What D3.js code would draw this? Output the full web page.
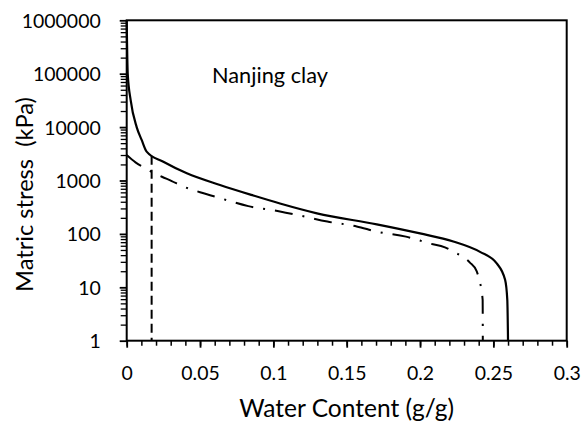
<!DOCTYPE html>
<html>
<head>
<meta charset="utf-8">
<script src="https://cdn.jsdelivr.net/npm/d3@7"></script>
<style>
  body { margin: 0; background: #fff; }
  text { font-family: Lato, "Open Sans", sans-serif; fill: #000; }
</style>
</head>
<body>
<div id="chart"></div>
<script>
var svgWidth = 585;
var svgHeight = 428;

var margin = { t: 20.3, r: 18.3, b: 87.3, l: 126.7 };

var width = svgWidth - margin.l - margin.r;
var height = svgHeight - margin.t - margin.b;

// data: water content (g/g) vs matric stress (kPa)
var solidW = [0, 0.0007, 0.0027, 0.0068, 0.0102, 0.0136, 0.025, 0.041, 0.0636, 0.0863, 0.1045, 0.1297, 0.1705, 0.2, 0.2227, 0.2409, 0.2523, 0.258, 0.2595, 0.26];
var solidS = [1000000, 100000, 32000, 10000, 5750, 3470, 2240, 1365, 824, 524, 371, 243, 151, 102, 72, 46, 28, 13.8, 5.8, 1];

var dashDotW = [0, 0.006, 0.0125, 0.024, 0.0307, 0.0375, 0.05, 0.0636, 0.0829, 0.1045, 0.117, 0.1368, 0.1568, 0.1705, 0.1904, 0.2068, 0.217, 0.2227, 0.234, 0.2386, 0.2404, 0.2427, 0.2428];
var dashDotS = [3000, 2190, 1700, 1175, 977, 794, 603, 468, 331, 263, 224, 170, 138, 110, 89, 66, 56, 46.5, 29, 20, 13.8, 5.8, 1];

var dashedW = [0.017, 0.017];
var dashedS = [2900, 1];

var xTicks = [0, 0.05, 0.1, 0.15, 0.2, 0.25, 0.3];
var yTicks = [1, 10, 100, 1000, 10000, 100000, 1000000];

// scale a text's font so it is as wide as in the picture (Calibri is not here)
function fitWidth(sel, target) {
    var fs = parseFloat(sel.attr("font-size"));
    var len = sel.node().getComputedTextLength();
    var nfs = fs * target / len;
    sel.attr("font-size", nfs + "px");
    return nfs;
}

var svg = d3.select("#chart")
    .append("svg")
    .attr("width", svgWidth)
    .attr("height", svgHeight);

var chartGroup = svg.append("g")
    .attr("transform", `translate(${margin.l}, ${margin.t})`);

var xScale = d3.scaleLinear().domain([0, 0.3]).range([0, width]);
var yScale = d3.scaleLog().domain([1, 1000000]).range([height, 0]);

// minor ticks first
var xMinor = d3.range(0, 0.3001, 0.01);
chartGroup.append("g")
    .attr("transform", `translate(0, ${height})`)
    .call(d3.axisBottom(xScale).tickValues(xMinor).tickSize(5).tickFormat(""))
    .call(g => g.select(".domain").remove())
    .selectAll("line").attr("stroke", "#000").attr("stroke-width", 1.5);

var yMinor = [];
yTicks.slice(0, -1).forEach(function(d) {
    for (var k = 2; k <= 9; k++) yMinor.push(d * k);
});
chartGroup.append("g")
    .call(d3.axisLeft(yScale).tickValues(yMinor).tickSize(6).tickFormat(""))
    .call(g => g.select(".domain").remove())
    .selectAll("line").attr("stroke", "#000").attr("stroke-width", 1.3);

var bottomAxis = d3.axisBottom(xScale)
    .tickValues(xTicks)
    .tickSize(7)
    .tickFormat(d => String(+d.toFixed(2)));
var leftAxis = d3.axisLeft(yScale)
    .tickValues(yTicks)
    .tickSize(7)
    .tickPadding(19)
    .tickFormat(d => String(d));

var xAxisG = chartGroup.append("g")
    .attr("transform", `translate(0, ${height})`)
    .call(bottomAxis);
var yAxisG = chartGroup.append("g")
    .call(leftAxis);

[xAxisG, yAxisG].forEach(function(g) {
    g.select(".domain").remove();
    g.selectAll("line").attr("stroke", "#000").attr("stroke-width", 1.8);
    g.selectAll("text").attr("font-size", "20px").attr("font-family", "Lato, sans-serif");
});

// tick label size from the widest label, "1000000"
var topLabel = yAxisG.selectAll("text").filter(d => d === 1000000);
var tickFs = fitWidth(topLabel, 79);
xAxisG.selectAll("text").attr("font-size", tickFs + "px")
    .attr("dy", 0)
    .attr("y", 32 + 0.36 * tickFs);
yAxisG.selectAll("text").attr("font-size", tickFs + "px").attr("dy", "0.36em");

// frame
chartGroup.append("rect")
    .attr("x", 0).attr("y", 0)
    .attr("width", width).attr("height", height)
    .attr("fill", "none")
    .attr("stroke", "#000")
    .attr("stroke-width", 2);

var line = d3.line()
    .x(d => xScale(d[0]))
    .y(d => yScale(d[1]))
    .curve(d3.curveMonotoneX);

chartGroup.append("path")
    .datum(d3.zip(dashDotW, dashDotS))
    .attr("d", line)
    .attr("fill", "none")
    .attr("stroke", "#000")
    .attr("stroke-width", 2)
    .attr("stroke-dasharray", "18,10,2,10");

chartGroup.append("path")
    .datum(d3.zip(dashedW, dashedS))
    .attr("d", d3.line().x(d => xScale(d[0])).y(d => yScale(d[1])))
    .attr("fill", "none")
    .attr("stroke", "#000")
    .attr("stroke-width", 2)
    .attr("stroke-dasharray", "9,5");

chartGroup.append("path")
    .datum(d3.zip(solidW, solidS))
    .attr("d", line)
    .attr("fill", "none")
    .attr("stroke", "#000")
    .attr("stroke-width", 2.2);

var note = chartGroup.append("text")
    .attr("x", 270 - margin.l)
    .attr("y", 83.3 - margin.t)
    .attr("text-anchor", "middle")
    .attr("font-size", "22px")
    .text("Nanjing clay");
fitWidth(note, 116);

var xTitle = svg.append("text")
    .attr("transform", `translate(${margin.l + width / 2}, 417)`)
    .attr("text-anchor", "middle")
    .attr("font-size", "24px")
    .text("Water Content (g/g)");
fitWidth(xTitle, 215);

var yTitle = svg.append("text")
    .attr("transform", `translate(33, 194.5) rotate(-90)`)
    .attr("text-anchor", "middle")
    .attr("font-size", "24px")
    .style("white-space", "pre")
    .text("Matric stress  (kPa)");
fitWidth(yTitle, 195);
</script>
</body>
</html>
